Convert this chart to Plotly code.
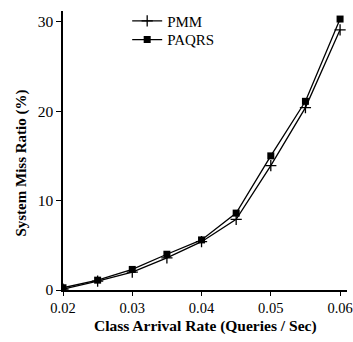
import plotly.graph_objects as go

rates = [0.02, 0.025, 0.03, 0.035, 0.04, 0.045, 0.05, 0.055, 0.06]
pmm = [0.1, 1.0, 2.0, 3.6, 5.4, 7.9, 13.9, 20.4, 29.1]
paqrs = [0.25, 1.1, 2.3, 4.0, 5.6, 8.6, 15.0, 21.1, 30.3]
x_ticks = [0.02, 0.03, 0.04, 0.05, 0.06]
x_tick_text = ["0.02", "0.03", "0.04", "0.05", "0.06"]
y_ticks = [0, 10, 20, 30]
x_title = "Class Arrival Rate (Queries / Sec)"
y_title = "System Miss Ratio (%)"

serif = "Liberation Serif, Times New Roman, serif"

fig = go.Figure()
fig.add_trace(go.Scatter(
    x=rates, y=pmm, name="PMM", mode="lines+markers", legend="legend",
    line=dict(color="black", width=1.3),
    marker=dict(symbol="cross-thin", size=8, color="black",
                line=dict(color="black", width=1.3)),
))
fig.add_trace(go.Scatter(
    x=rates, y=paqrs, name="PAQRS", mode="lines+markers", legend="legend2",
    line=dict(color="black", width=1.3),
    marker=dict(symbol="square", size=7, color="black"),
))

leg_common = dict(x=0.226, xanchor="left", yanchor="top",
                  bgcolor="rgba(0,0,0,0)", font=dict(family=serif, size=15),
                  itemwidth=30)

fig.update_layout(
    width=353, height=342,
    margin=dict(l=63, r=6, t=5, b=52),
    paper_bgcolor="white", plot_bgcolor="white",
    font=dict(family=serif, size=15, color="black"),
    showlegend=True,
    legend=dict(y=1.023, **leg_common),
    legend2=dict(y=0.956, **leg_common),
    xaxis=dict(
        range=[0.02, 0.061], tickvals=x_ticks, ticktext=x_tick_text,
        showgrid=False, zeroline=False, showline=True, linecolor="black",
        linewidth=1.5, ticks="outside", ticklen=4, tickcolor="black",
        ticklabeloverflow="allow", automargin=False,
        tickfont=dict(size=14.5),
    ),
    yaxis=dict(
        range=[0, 31.2], tickvals=y_ticks,
        showgrid=False, zeroline=False, showline=True, linecolor="black",
        linewidth=1.5, ticks="outside", ticklen=5, tickcolor="black",
        ticklabeloverflow="allow", automargin=False,
        tickfont=dict(size=15.5),
    ),
    annotations=[
        dict(text="<b>" + x_title + "</b>", xref="paper", yref="paper",
             x=0.5035, y=-0.130, xanchor="center", yanchor="middle",
             showarrow=False, font=dict(family=serif, size=15.5)),
        dict(text="<b>" + y_title + "</b>", xref="paper", yref="paper",
             x=-0.145, y=0.456, xanchor="center", yanchor="middle",
             textangle=-90, showarrow=False, font=dict(family=serif, size=15)),
    ],
)

fig.write_html("out.html")
